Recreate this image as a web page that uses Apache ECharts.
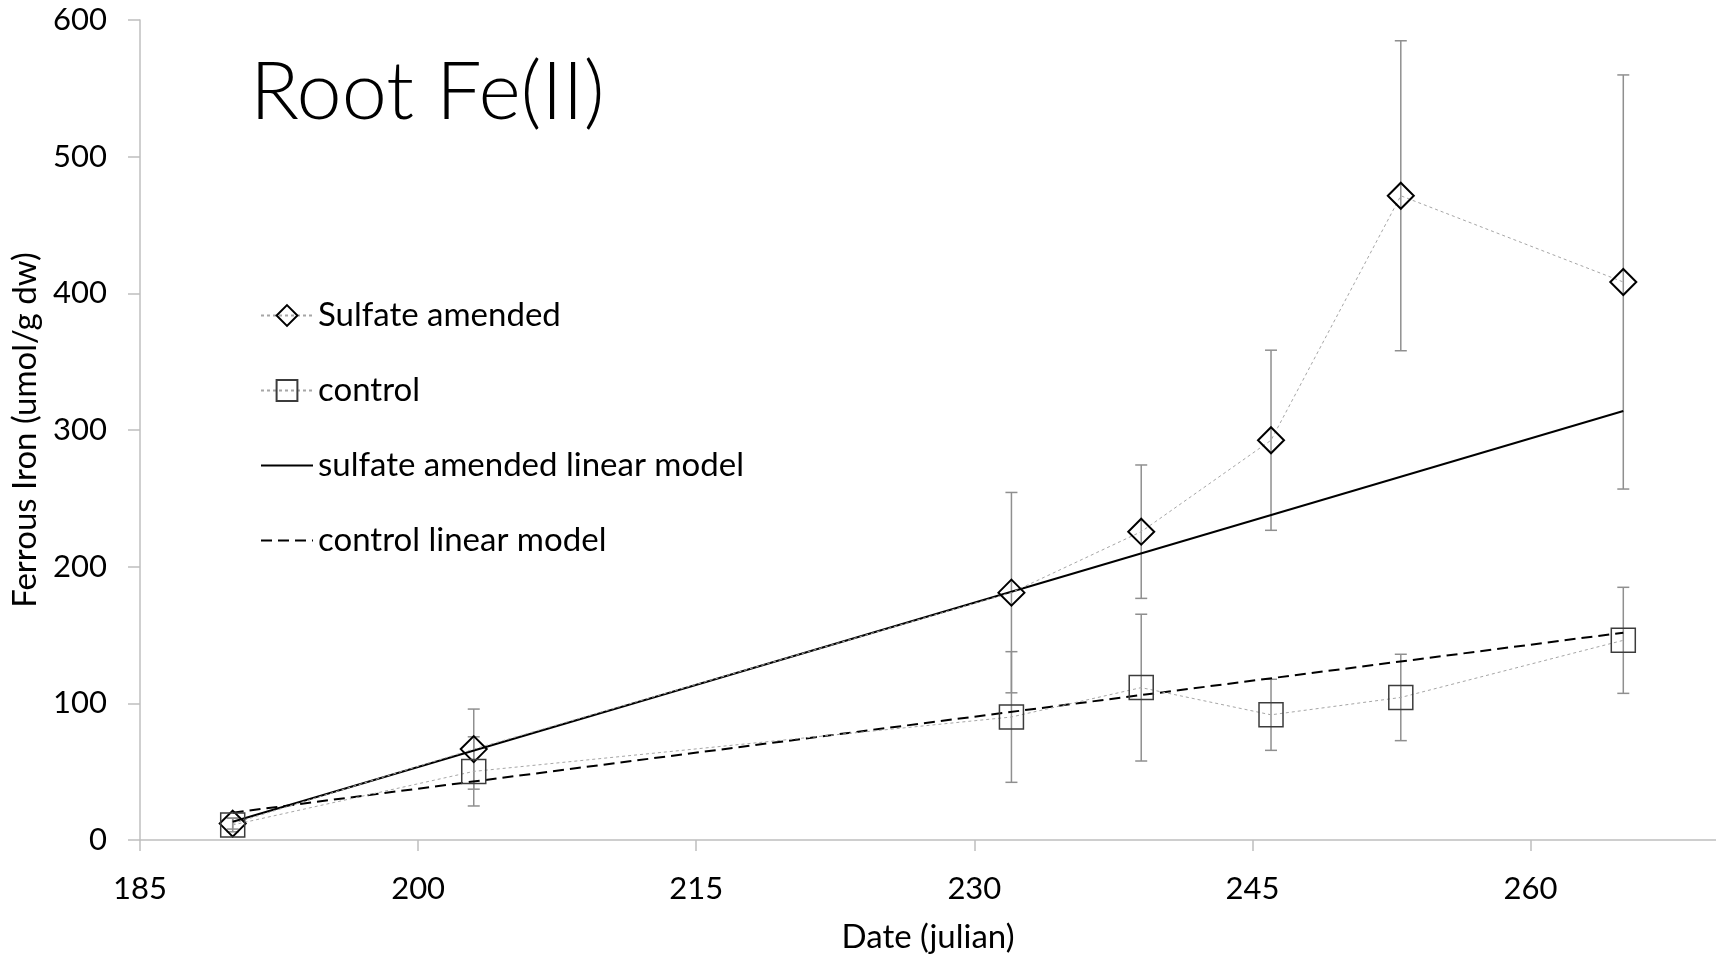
<!DOCTYPE html>
<html>
<head>
<meta charset="utf-8">
<title>Root Fe(II)</title>
<script src="https://cdn.jsdelivr.net/npm/echarts@6/dist/echarts.min.js"></script>
<style>
  html, body { margin: 0; padding: 0; background: #fff; }
  #chart { width: 1716px; height: 959px; }
</style>
</head>
<body>
<div id="chart"></div>
<script>
// Sampling days (julian) and root ferrous iron, umol/g dry weight
const days = [190, 203, 232, 239, 246, 253, 265];
const sulfateMean = [12, 66.5, 181, 225.6, 292.5, 471.4, 408.3];
const sulfateErr = [4, 29.3, 73.3, 48.8, 65.9, 113.4, 151.5];
const controlMean = [11, 50.2, 90, 111.5, 91.6, 104.3, 146.1];
const controlErr = [5, 25.3, 47.8, 53.7, 26, 31.6, 38.8];

// Fitted linear models, drawn between first and last sampling day
const modelDays = [190, 265];
const sulfateModel = [13.4, 313.9];
const controlModel = [20, 151.7];

const xTicks = [185, 200, 215, 230, 245, 260];
const yTicks = [0, 100, 200, 300, 400, 500, 600];

const FONT = 'Lato, "Open Sans", sans-serif';

const pairs = (xs, ys) => xs.map((x, i) => [x, ys[i]]);
const bars = (xs, m, e) => xs.map((x, i) => [x, m[i] - e[i], m[i] + e[i]]);

function errorBar(params, api) {
  const x = api.value(0);
  const lo = api.coord([x, api.value(1)]);
  const hi = api.coord([x, api.value(2)]);
  const cap = 6;
  const style = { stroke: '#8f8f8f', lineWidth: 1.5, fill: null };
  return {
    type: 'group',
    children: [
      { type: 'line', shape: { x1: lo[0], y1: lo[1], x2: hi[0], y2: hi[1] }, style },
      { type: 'line', shape: { x1: lo[0] - cap, y1: lo[1], x2: lo[0] + cap, y2: lo[1] }, style },
      { type: 'line', shape: { x1: hi[0] - cap, y1: hi[1], x2: hi[0] + cap, y2: hi[1] }, style }
    ]
  };
}

const chart = echarts.init(document.getElementById('chart'), null, { renderer: 'canvas' });

chart.setOption({
  animation: false,
  backgroundColor: '#ffffff',
  textStyle: { fontFamily: FONT },
  title: {
    text: 'Root Fe(II)',
    left: 250,
    top: 52,
    padding: 0,
    textStyle: { fontFamily: FONT, fontSize: 81, fontWeight: 300, color: '#000' }
  },
  legend: {
    orient: 'vertical',
    left: 260,
    top: 299,
    padding: 0,
    itemWidth: 52,
    itemHeight: 26,
    itemGap: 42,
    textStyle: { fontFamily: FONT, fontSize: 33, color: '#000' },
    data: [
      { name: 'Sulfate amended' },
      { name: 'control' },
      { name: 'sulfate amended linear model', itemStyle: { opacity: 0 } },
      { name: 'control linear model', itemStyle: { opacity: 0 } }
    ]
  },
  grid: { left: 140, right: 0, top: 20, bottom: 119, outerBoundsMode: 'none' },
  xAxis: {
    type: 'value',
    min: 185,
    max: 270,
    interval: 15,
    name: 'Date (julian)',
    nameLocation: 'middle',
    nameGap: 81,
    nameTextStyle: { fontFamily: FONT, fontSize: 33, color: '#000' },
    splitLine: { show: false },
    axisLine: { lineStyle: { color: '#bfbfbf', width: 1.5 } },
    axisTick: { length: 11, customValues: xTicks, lineStyle: { color: '#bfbfbf', width: 1.5 } },
    axisLabel: { customValues: xTicks, margin: 33, fontFamily: FONT, fontSize: 31, color: '#000' }
  },
  yAxis: {
    type: 'value',
    min: 0,
    max: 600,
    interval: 100,
    name: 'Ferrous Iron (umol/g dw)',
    nameLocation: 'middle',
    nameGap: 91,
    nameTextStyle: { fontFamily: FONT, fontSize: 33, color: '#000' },
    splitLine: { show: false },
    axisLine: { show: true, lineStyle: { color: '#bfbfbf', width: 1.5 } },
    axisTick: { show: true, length: 12, customValues: yTicks, lineStyle: { color: '#bfbfbf', width: 1.5 } },
    axisLabel: { customValues: yTicks, margin: 33, fontFamily: FONT, fontSize: 31, color: '#000' }
  },
  series: [
    {
      name: 'sulfate error',
      type: 'custom',
      renderItem: errorBar,
      encode: { x: 0, y: [1, 2] },
      data: bars(days, sulfateMean, sulfateErr),
      z: 1,
      silent: true
    },
    {
      name: 'control error',
      type: 'custom',
      renderItem: errorBar,
      encode: { x: 0, y: [1, 2] },
      data: bars(days, controlMean, controlErr),
      z: 1,
      silent: true
    },
    {
      name: 'sulfate amended linear model',
      type: 'line',
      data: pairs(modelDays, sulfateModel),
      symbol: 'none',
      lineStyle: { color: '#000', width: 2, type: 'solid' },
      itemStyle: { color: '#000' },
      z: 3
    },
    {
      name: 'control linear model',
      type: 'line',
      data: pairs(modelDays, controlModel),
      symbol: 'none',
      lineStyle: { color: '#000', width: 2, type: [11, 6] },
      itemStyle: { color: '#000' },
      z: 3
    },
    {
      name: 'Sulfate amended',
      type: 'line',
      data: pairs(days, sulfateMean),
      symbol: 'diamond',
      symbolSize: 26,
      lineStyle: { color: '#a6a6a6', width: 1, type: [3, 3] },
      itemStyle: { color: 'rgba(255,255,255,0)', borderColor: '#000', borderWidth: 2 },
      z: 4
    },
    {
      name: 'control',
      type: 'line',
      data: pairs(days, controlMean),
      symbol: 'rect',
      symbolSize: 24,
      lineStyle: { color: '#a6a6a6', width: 1, type: [3, 3] },
      itemStyle: { color: 'rgba(255,255,255,0)', borderColor: '#3c3c3c', borderWidth: 1.5 },
      z: 4
    }
  ]
});
</script>
</body>
</html>
